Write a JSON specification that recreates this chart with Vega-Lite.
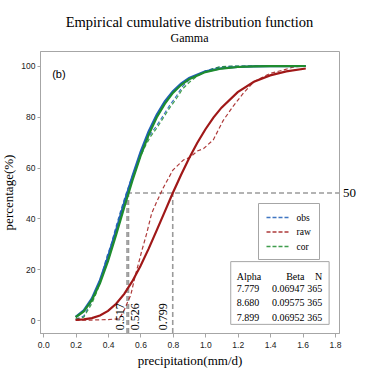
{
  "$schema": "https://vega.github.io/schema/vega-lite/v6.json",
  "width": 299,
  "height": 282,
  "autosize": {"type": "none"},
  "padding": {"left": 40, "top": 51, "right": 38, "bottom": 51},
  "background": "white",
  "title": {
    "text": "Empirical cumulative distribution function",
    "subtitle": "Gamma",
    "font": "Liberation Serif",
    "fontSize": 14.5,
    "fontWeight": "normal",
    "color": "black",
    "subtitleFont": "Liberation Serif",
    "subtitleFontSize": 12,
    "subtitleColor": "black",
    "anchor": "middle",
    "offset": 6,
    "subtitlePadding": 3
  },
  "config": {
    "view": {"stroke": "#a6a6a6", "strokeWidth": 1},
    "axis": {
      "grid": false,
      "domainColor": "#a6a6a6",
      "tickColor": "#a6a6a6",
      "labelColor": "#222222",
      "labelFont": "Liberation Sans",
      "labelFontSize": 8.5,
      "labelOverlap": false,
      "titleFont": "Liberation Serif",
      "titleFontSize": 13,
      "titleFontWeight": "normal",
      "titleColor": "black"
    }
  },
  "datasets": {
    "refs": [
      {"label": "0.517", "x": 0.517},
      {"label": "0.526", "x": 0.526},
      {"label": "0.799", "x": 0.799}
    ],
    "table": [
      {"col": "Alpha", "cells": ["7.779", "8.680", "7.899"]},
      {"col": "Beta", "cells": ["0.06947", "0.09575", "0.06952"]},
      {"col": "N", "cells": ["365", "365", "365"]}
    ],
    "curves": [
      {"series": "raw", "kind": "emp", "x": 0.2, "y": 0},
      {"series": "raw", "kind": "emp", "x": 0.3, "y": 0},
      {"series": "raw", "kind": "emp", "x": 0.4, "y": 0.2},
      {"series": "raw", "kind": "emp", "x": 0.47, "y": 0.5},
      {"series": "raw", "kind": "emp", "x": 0.5, "y": 4},
      {"series": "raw", "kind": "emp", "x": 0.52, "y": 7},
      {"series": "raw", "kind": "emp", "x": 0.54, "y": 9.8},
      {"series": "raw", "kind": "emp", "x": 0.566, "y": 17},
      {"series": "raw", "kind": "emp", "x": 0.588, "y": 22.3},
      {"series": "raw", "kind": "emp", "x": 0.607, "y": 27},
      {"series": "raw", "kind": "emp", "x": 0.638, "y": 34},
      {"series": "raw", "kind": "emp", "x": 0.669, "y": 42},
      {"series": "raw", "kind": "emp", "x": 0.7, "y": 46.5},
      {"series": "raw", "kind": "emp", "x": 0.74, "y": 52},
      {"series": "raw", "kind": "emp", "x": 0.8, "y": 59},
      {"series": "raw", "kind": "emp", "x": 0.865, "y": 63},
      {"series": "raw", "kind": "emp", "x": 0.905, "y": 64},
      {"series": "raw", "kind": "emp", "x": 0.95, "y": 66.5},
      {"series": "raw", "kind": "emp", "x": 0.99, "y": 67.5},
      {"series": "raw", "kind": "emp", "x": 1.05, "y": 71},
      {"series": "raw", "kind": "emp", "x": 1.11, "y": 78.5},
      {"series": "raw", "kind": "emp", "x": 1.17, "y": 84},
      {"series": "raw", "kind": "emp", "x": 1.235, "y": 89.3},
      {"series": "raw", "kind": "emp", "x": 1.3, "y": 93.8},
      {"series": "raw", "kind": "emp", "x": 1.4, "y": 97.1},
      {"series": "raw", "kind": "emp", "x": 1.48, "y": 98.4},
      {"series": "raw", "kind": "emp", "x": 1.55, "y": 99.7},
      {"series": "raw", "kind": "emp", "x": 1.62, "y": 100},

      {"series": "obs", "kind": "emp", "x": 0.2, "y": 0.3},
      {"series": "obs", "kind": "emp", "x": 0.25, "y": 1.6},
      {"series": "obs", "kind": "emp", "x": 0.3, "y": 7.5},
      {"series": "obs", "kind": "emp", "x": 0.33, "y": 12},
      {"series": "obs", "kind": "emp", "x": 0.36, "y": 17.5},
      {"series": "obs", "kind": "emp", "x": 0.39, "y": 24.5},
      {"series": "obs", "kind": "emp", "x": 0.42, "y": 30},
      {"series": "obs", "kind": "emp", "x": 0.45, "y": 37},
      {"series": "obs", "kind": "emp", "x": 0.48, "y": 43.5},
      {"series": "obs", "kind": "emp", "x": 0.51, "y": 49.5},
      {"series": "obs", "kind": "emp", "x": 0.54, "y": 55},
      {"series": "obs", "kind": "emp", "x": 0.57, "y": 60},
      {"series": "obs", "kind": "emp", "x": 0.6, "y": 66},
      {"series": "obs", "kind": "emp", "x": 0.63, "y": 70},
      {"series": "obs", "kind": "emp", "x": 0.66, "y": 73},
      {"series": "obs", "kind": "emp", "x": 0.7, "y": 76.5},
      {"series": "obs", "kind": "emp", "x": 0.74, "y": 80.5},
      {"series": "obs", "kind": "emp", "x": 0.78, "y": 84.5},
      {"series": "obs", "kind": "emp", "x": 0.82, "y": 88},
      {"series": "obs", "kind": "emp", "x": 0.86, "y": 92},
      {"series": "obs", "kind": "emp", "x": 0.9, "y": 94.5},
      {"series": "obs", "kind": "emp", "x": 0.95, "y": 96.5},
      {"series": "obs", "kind": "emp", "x": 1.0, "y": 98},
      {"series": "obs", "kind": "emp", "x": 1.05, "y": 99},
      {"series": "obs", "kind": "emp", "x": 1.1, "y": 99.7},
      {"series": "obs", "kind": "emp", "x": 1.2, "y": 100},
      {"series": "obs", "kind": "emp", "x": 1.4, "y": 100},
      {"series": "obs", "kind": "emp", "x": 1.62, "y": 100},

      {"series": "cor", "kind": "emp", "x": 0.2, "y": 0.3},
      {"series": "cor", "kind": "emp", "x": 0.25, "y": 1.1},
      {"series": "cor", "kind": "emp", "x": 0.3, "y": 6.5},
      {"series": "cor", "kind": "emp", "x": 0.33, "y": 11},
      {"series": "cor", "kind": "emp", "x": 0.36, "y": 16.5},
      {"series": "cor", "kind": "emp", "x": 0.39, "y": 23.5},
      {"series": "cor", "kind": "emp", "x": 0.42, "y": 29},
      {"series": "cor", "kind": "emp", "x": 0.45, "y": 35.5},
      {"series": "cor", "kind": "emp", "x": 0.48, "y": 42.5},
      {"series": "cor", "kind": "emp", "x": 0.51, "y": 48.5},
      {"series": "cor", "kind": "emp", "x": 0.54, "y": 54},
      {"series": "cor", "kind": "emp", "x": 0.57, "y": 59},
      {"series": "cor", "kind": "emp", "x": 0.6, "y": 64.5},
      {"series": "cor", "kind": "emp", "x": 0.63, "y": 68.5},
      {"series": "cor", "kind": "emp", "x": 0.66, "y": 72},
      {"series": "cor", "kind": "emp", "x": 0.7, "y": 75.5},
      {"series": "cor", "kind": "emp", "x": 0.74, "y": 79.5},
      {"series": "cor", "kind": "emp", "x": 0.78, "y": 83.5},
      {"series": "cor", "kind": "emp", "x": 0.82, "y": 87},
      {"series": "cor", "kind": "emp", "x": 0.86, "y": 91},
      {"series": "cor", "kind": "emp", "x": 0.9, "y": 93.5},
      {"series": "cor", "kind": "emp", "x": 0.95, "y": 96},
      {"series": "cor", "kind": "emp", "x": 1.0, "y": 97.8},
      {"series": "cor", "kind": "emp", "x": 1.05, "y": 99},
      {"series": "cor", "kind": "emp", "x": 1.1, "y": 99.8},
      {"series": "cor", "kind": "emp", "x": 1.2, "y": 100},
      {"series": "cor", "kind": "emp", "x": 1.4, "y": 100},
      {"series": "cor", "kind": "emp", "x": 1.62, "y": 100},

      {"series": "raw", "kind": "fit", "x": 0.2, "y": 0.06},
      {"series": "raw", "kind": "fit", "x": 0.25, "y": 0.25},
      {"series": "raw", "kind": "fit", "x": 0.3, "y": 0.74},
      {"series": "raw", "kind": "fit", "x": 0.35, "y": 1.8},
      {"series": "raw", "kind": "fit", "x": 0.4, "y": 3.6},
      {"series": "raw", "kind": "fit", "x": 0.45, "y": 6.4},
      {"series": "raw", "kind": "fit", "x": 0.5, "y": 10.3},
      {"series": "raw", "kind": "fit", "x": 0.55, "y": 15.3},
      {"series": "raw", "kind": "fit", "x": 0.6, "y": 21.3},
      {"series": "raw", "kind": "fit", "x": 0.65, "y": 28.0},
      {"series": "raw", "kind": "fit", "x": 0.7, "y": 35.3},
      {"series": "raw", "kind": "fit", "x": 0.75, "y": 42.7},
      {"series": "raw", "kind": "fit", "x": 0.8, "y": 50.1},
      {"series": "raw", "kind": "fit", "x": 0.85, "y": 57.1},
      {"series": "raw", "kind": "fit", "x": 0.9, "y": 63.7},
      {"series": "raw", "kind": "fit", "x": 0.95, "y": 69.7},
      {"series": "raw", "kind": "fit", "x": 1.0, "y": 75.0},
      {"series": "raw", "kind": "fit", "x": 1.05, "y": 79.7},
      {"series": "raw", "kind": "fit", "x": 1.1, "y": 83.6},
      {"series": "raw", "kind": "fit", "x": 1.2, "y": 89.7},
      {"series": "raw", "kind": "fit", "x": 1.3, "y": 93.8},
      {"series": "raw", "kind": "fit", "x": 1.4, "y": 96.3},
      {"series": "raw", "kind": "fit", "x": 1.5, "y": 97.9},
      {"series": "raw", "kind": "fit", "x": 1.62, "y": 99.0},

      {"series": "obs", "kind": "fit", "x": 0.2, "y": 1.25},
      {"series": "obs", "kind": "fit", "x": 0.25, "y": 3.8},
      {"series": "obs", "kind": "fit", "x": 0.3, "y": 8.5},
      {"series": "obs", "kind": "fit", "x": 0.35, "y": 15.7},
      {"series": "obs", "kind": "fit", "x": 0.4, "y": 25.0},
      {"series": "obs", "kind": "fit", "x": 0.45, "y": 35.5},
      {"series": "obs", "kind": "fit", "x": 0.5, "y": 46.2},
      {"series": "obs", "kind": "fit", "x": 0.55, "y": 56.6},
      {"series": "obs", "kind": "fit", "x": 0.6, "y": 66.1},
      {"series": "obs", "kind": "fit", "x": 0.65, "y": 74.2},
      {"series": "obs", "kind": "fit", "x": 0.7, "y": 80.8},
      {"series": "obs", "kind": "fit", "x": 0.75, "y": 86.1},
      {"series": "obs", "kind": "fit", "x": 0.8, "y": 90.1},
      {"series": "obs", "kind": "fit", "x": 0.85, "y": 93.1},
      {"series": "obs", "kind": "fit", "x": 0.9, "y": 95.3},
      {"series": "obs", "kind": "fit", "x": 1.0, "y": 97.9},
      {"series": "obs", "kind": "fit", "x": 1.1, "y": 99.1},
      {"series": "obs", "kind": "fit", "x": 1.2, "y": 99.6},
      {"series": "obs", "kind": "fit", "x": 1.3, "y": 99.85},
      {"series": "obs", "kind": "fit", "x": 1.4, "y": 99.94},
      {"series": "obs", "kind": "fit", "x": 1.5, "y": 99.98},
      {"series": "obs", "kind": "fit", "x": 1.62, "y": 100},

      {"series": "cor", "kind": "fit", "x": 0.2, "y": 1.1},
      {"series": "cor", "kind": "fit", "x": 0.25, "y": 3.4},
      {"series": "cor", "kind": "fit", "x": 0.3, "y": 7.8},
      {"series": "cor", "kind": "fit", "x": 0.35, "y": 14.5},
      {"series": "cor", "kind": "fit", "x": 0.4, "y": 23.3},
      {"series": "cor", "kind": "fit", "x": 0.45, "y": 33.6},
      {"series": "cor", "kind": "fit", "x": 0.5, "y": 44.4},
      {"series": "cor", "kind": "fit", "x": 0.55, "y": 54.9},
      {"series": "cor", "kind": "fit", "x": 0.6, "y": 64.5},
      {"series": "cor", "kind": "fit", "x": 0.65, "y": 72.8},
      {"series": "cor", "kind": "fit", "x": 0.7, "y": 79.7},
      {"series": "cor", "kind": "fit", "x": 0.75, "y": 85.1},
      {"series": "cor", "kind": "fit", "x": 0.8, "y": 89.4},
      {"series": "cor", "kind": "fit", "x": 0.85, "y": 92.5},
      {"series": "cor", "kind": "fit", "x": 0.9, "y": 94.8},
      {"series": "cor", "kind": "fit", "x": 1.0, "y": 97.6},
      {"series": "cor", "kind": "fit", "x": 1.1, "y": 99.0},
      {"series": "cor", "kind": "fit", "x": 1.2, "y": 99.6},
      {"series": "cor", "kind": "fit", "x": 1.3, "y": 99.83},
      {"series": "cor", "kind": "fit", "x": 1.4, "y": 99.94},
      {"series": "cor", "kind": "fit", "x": 1.5, "y": 99.98},
      {"series": "cor", "kind": "fit", "x": 1.62, "y": 100}
    ]
  },
  "layer": [
    {
      "data": {"name": "refs"},
      "mark": {"type": "rule", "color": "#9a9a9a", "strokeWidth": 1.6, "strokeDash": [5, 3]},
      "encoding": {
        "x": {
          "field": "x", "type": "quantitative",
          "scale": {"domain": [-0.02, 1.825], "nice": false, "zero": false},
          "axis": {"title": "precipitation(mm/d)", "values": [0, 0.2, 0.4, 0.6, 0.8, 1.0, 1.2, 1.4, 1.6, 1.8], "tickCount": 10, "labelOverlap": false, "format": ".1f", "tickSize": 4, "labelPadding": 3, "titlePadding": 6}
        },
        "y": {
          "datum": -5.1, "type": "quantitative",
          "scale": {"domain": [-5.1, 105.9], "nice": false, "zero": false},
          "axis": {"title": "percentage(%)", "values": [0, 20, 40, 60, 80, 100], "labelOverlap": false, "tickSize": 3, "labelPadding": 2, "titlePadding": 5}
        },
        "y2": {"datum": 50}
      }
    },
    {
      "data": {"name": "refs"},
      "transform": [{"filter": "datum.label == '0.517'"}],
      "mark": {"type": "rule", "color": "#9a9a9a", "strokeWidth": 1.6, "strokeDash": [5, 3]},
      "encoding": {
        "x": {"field": "x", "type": "quantitative", "title": "precipitation(mm/d)"},
        "x2": {"datum": 1.825},
        "y": {"datum": 50, "type": "quantitative", "title": "percentage(%)"}
      }
    },
    {
      "data": {"name": "refs"},
      "transform": [{"filter": "datum.label == '0.517'"}],
      "mark": {"type": "text", "align": "left", "baseline": "middle", "dx": 4, "font": "Liberation Serif", "fontSize": 13, "color": "black"},
      "encoding": {
        "x": {"datum": 1.825, "type": "quantitative", "title": "precipitation(mm/d)"},
        "y": {"datum": 50, "type": "quantitative", "title": "percentage(%)"},
        "text": {"datum": 50}
      }
    },
    {
      "data": {"name": "curves"},
      "transform": [{"filter": "datum.kind == 'emp'"}],
      "mark": {"type": "line", "strokeWidth": 1.2, "strokeDash": [4, 2.5], "opacity": 0.85},
      "encoding": {
        "x": {"field": "x", "type": "quantitative", "title": "precipitation(mm/d)"},
        "y": {"field": "y", "type": "quantitative", "title": "percentage(%)"},
        "color": {
          "field": "series", "type": "nominal",
          "scale": {"domain": ["obs", "raw", "cor"], "range": ["#1f5fb8", "#a01818", "#1e8c2e"]},
          "legend": {
            "title": null, "orient": "none", "legendX": 218, "legendY": 152,
            "fillColor": "white", "strokeColor": "#a6a6a6", "padding": 7.5,
            "symbolType": "M-1,0H3", "symbolSize": 144, "symbolStrokeWidth": 1.3, "symbolDash": [4, 2],
            "symbolFillColor": "transparent",
            "labelFont": "Liberation Serif", "labelFontSize": 9.5, "labelColor": "black",
            "labelOffset": 17, "rowPadding": 2.5
          }
        }
      }
    },
    {
      "data": {"name": "curves"},
      "transform": [{"filter": "datum.kind == 'fit'"}],
      "mark": {"type": "line", "strokeWidth": 2.2},
      "encoding": {
        "x": {"field": "x", "type": "quantitative", "title": "precipitation(mm/d)"},
        "y": {"field": "y", "type": "quantitative", "title": "percentage(%)"},
        "color": {"field": "series", "type": "nominal"}
      }
    },
    {
      "data": {"name": "refs"},
      "transform": [{"filter": "datum.label == '0.517'"}],
      "mark": {"type": "text", "angle": 270, "align": "left", "baseline": "middle", "dy": -7, "font": "Liberation Serif", "fontSize": 12, "color": "black"},
      "encoding": {
        "x": {"field": "x", "type": "quantitative", "title": "precipitation(mm/d)"},
        "y": {"datum": -4, "type": "quantitative", "title": "percentage(%)"},
        "text": {"field": "label"}
      }
    },
    {
      "data": {"name": "refs"},
      "transform": [{"filter": "datum.label == '0.526'"}],
      "mark": {"type": "text", "angle": 270, "align": "left", "baseline": "middle", "dy": 6.5, "font": "Liberation Serif", "fontSize": 12, "color": "black"},
      "encoding": {
        "x": {"field": "x", "type": "quantitative", "title": "precipitation(mm/d)"},
        "y": {"datum": -4, "type": "quantitative", "title": "percentage(%)"},
        "text": {"field": "label"}
      }
    },
    {
      "data": {"name": "refs"},
      "transform": [{"filter": "datum.label == '0.799'"}],
      "mark": {"type": "text", "angle": 270, "align": "left", "baseline": "middle", "dy": -9.5, "font": "Liberation Serif", "fontSize": 12, "color": "black"},
      "encoding": {
        "x": {"field": "x", "type": "quantitative", "title": "precipitation(mm/d)"},
        "y": {"datum": -4, "type": "quantitative", "title": "percentage(%)"},
        "text": {"field": "label"}
      }
    },
    {
      "data": {"name": "refs"},
      "transform": [{"filter": "datum.label == '0.517'"}],
      "mark": {"type": "text", "align": "left", "baseline": "middle", "font": "Liberation Sans", "fontSize": 11, "color": "black"},
      "encoding": {
        "x": {"datum": 0.055, "type": "quantitative", "title": "precipitation(mm/d)"},
        "y": {"datum": 96.5, "type": "quantitative", "title": "percentage(%)"},
        "text": {"value": "(b)"}
      }
    },
    {
      "data": {"name": "table"},
      "transform": [{"filter": "datum.col == 'Alpha'"}],
      "mark": {"type": "rect", "fill": "white", "stroke": "#a6a6a6", "strokeWidth": 1},
      "encoding": {
        "x": {"datum": 1.157, "type": "quantitative", "title": "precipitation(mm/d)"},
        "x2": {"datum": 1.764},
        "y": {"datum": 23.0, "type": "quantitative", "title": "percentage(%)"},
        "y2": {"datum": -1.7}
      }
    },
    {
      "data": {"name": "table"},
      "transform": [{"filter": "datum.col == 'Alpha'"}],
      "mark": {"type": "text", "align": "left", "baseline": "middle", "font": "Liberation Serif", "fontSize": 10, "color": "black"},
      "encoding": {
        "x": {"datum": 1.194, "type": "quantitative", "title": "precipitation(mm/d)"},
        "y": {"datum": 16.9, "type": "quantitative", "title": "percentage(%)"},
        "text": {"field": "col"}
      }
    },
    {
      "data": {"name": "table"},
      "transform": [{"filter": "datum.col == 'Beta'"}],
      "mark": {"type": "text", "align": "right", "baseline": "middle", "font": "Liberation Serif", "fontSize": 10, "color": "black"},
      "encoding": {
        "x": {"datum": 1.612, "type": "quantitative", "title": "precipitation(mm/d)"},
        "y": {"datum": 16.9, "type": "quantitative", "title": "percentage(%)"},
        "text": {"field": "col"}
      }
    },
    {
      "data": {"name": "table"},
      "transform": [{"filter": "datum.col == 'N'"}],
      "mark": {"type": "text", "align": "right", "baseline": "middle", "font": "Liberation Serif", "fontSize": 10, "color": "black"},
      "encoding": {
        "x": {"datum": 1.722, "type": "quantitative", "title": "precipitation(mm/d)"},
        "y": {"datum": 16.9, "type": "quantitative", "title": "percentage(%)"},
        "text": {"field": "col"}
      }
    },
    {
      "data": {"name": "table"},
      "transform": [{"filter": "datum.col == 'Alpha'"}],
      "mark": {"type": "text", "align": "left", "baseline": "top", "lineHeight": 14.5, "font": "Liberation Serif", "fontSize": 10, "color": "black"},
      "encoding": {
        "x": {"datum": 1.194, "type": "quantitative", "title": "precipitation(mm/d)"},
        "y": {"datum": 14.2, "type": "quantitative", "title": "percentage(%)"},
        "text": {"field": "cells"}
      }
    },
    {
      "data": {"name": "table"},
      "transform": [{"filter": "datum.col == 'Beta'"}],
      "mark": {"type": "text", "align": "right", "baseline": "top", "lineHeight": 14.5, "font": "Liberation Serif", "fontSize": 10, "color": "black"},
      "encoding": {
        "x": {"datum": 1.612, "type": "quantitative", "title": "precipitation(mm/d)"},
        "y": {"datum": 14.2, "type": "quantitative", "title": "percentage(%)"},
        "text": {"field": "cells"}
      }
    },
    {
      "data": {"name": "table"},
      "transform": [{"filter": "datum.col == 'N'"}],
      "mark": {"type": "text", "align": "right", "baseline": "top", "lineHeight": 14.5, "font": "Liberation Serif", "fontSize": 10, "color": "black"},
      "encoding": {
        "x": {"datum": 1.722, "type": "quantitative", "title": "precipitation(mm/d)"},
        "y": {"datum": 14.2, "type": "quantitative", "title": "percentage(%)"},
        "text": {"field": "cells"}
      }
    }
  ]
}
